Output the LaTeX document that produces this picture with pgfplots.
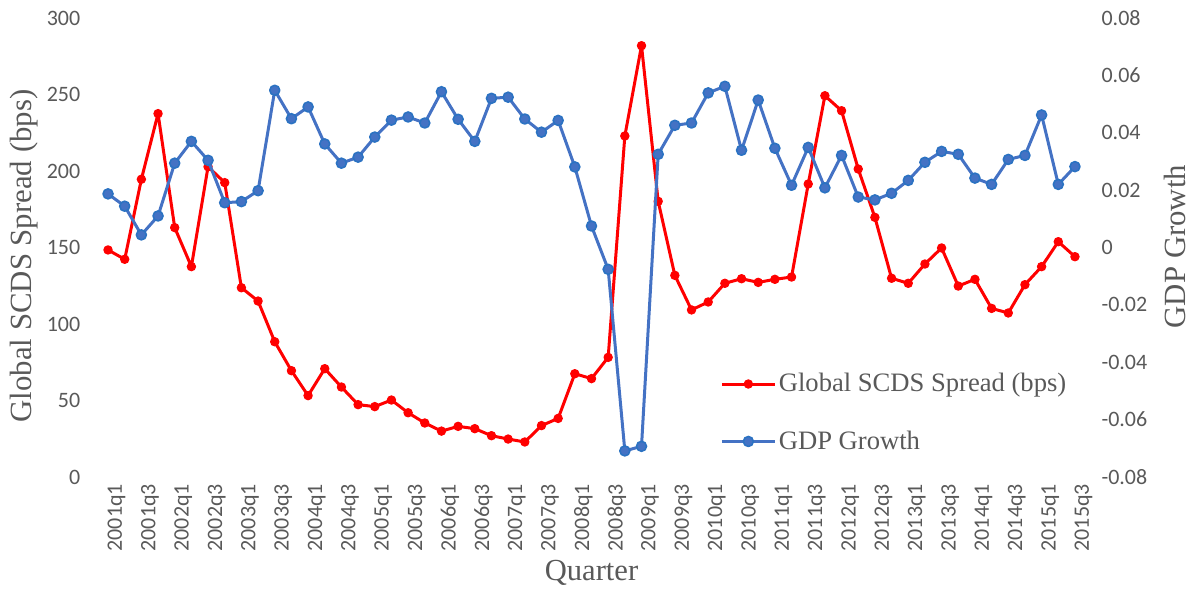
\documentclass[border=0pt]{standalone}
\usepackage{pgfplots}
\usepackage{pgfplotstable}
\pgfplotsset{compat=1.18}
\usepackage{fontspec}
\setmainfont{Liberation Serif}
\newfontfamily\tickfont{Carlito}
\definecolor{txt}{HTML}{595959}
\definecolor{gdp}{HTML}{4472C4}
\definecolor{gdpedge}{HTML}{2B72C2}
\definecolor{scds}{HTML}{FF0000}
\pgfplotstableread{
x red gdp
0 148.4 0.0187
1 142.3 0.0144
2 194.6 0.0044
3 237.5 0.0110
4 163.0 0.0294
5 137.5 0.0370
6 202.8 0.0304
7 192.4 0.0156
8 123.7 0.0160
9 115.0 0.0198
10 88.4 0.0548
11 69.5 0.0449
12 53.2 0.0490
13 70.8 0.0361
14 58.8 0.0294
15 47.3 0.0315
16 46.0 0.0385
17 50.3 0.0444
18 42.0 0.0455
19 35.3 0.0434
20 30.0 0.0543
21 33.1 0.0447
22 31.6 0.0370
23 27.0 0.0520
24 24.8 0.0524
25 22.9 0.0448
26 33.6 0.0402
27 38.3 0.0443
28 67.5 0.0281
29 64.3 0.0075
30 78.2 -0.0076
31 222.9 -0.0709
32 281.9 -0.0693
33 180.2 0.0325
34 131.8 0.0426
35 109.2 0.0434
36 114.4 0.0539
37 126.6 0.0562
38 129.6 0.0339
39 127.2 0.0514
40 129.2 0.0346
41 130.7 0.0217
42 191.5 0.0349
43 249.2 0.0208
44 239.4 0.0321
45 201.3 0.0176
46 169.7 0.0166
47 129.9 0.0189
48 126.6 0.0234
49 139.2 0.0297
50 149.7 0.0335
51 124.8 0.0325
52 129.2 0.0242
53 110.2 0.0220
54 107.2 0.0307
55 125.7 0.0321
56 137.5 0.0462
57 153.8 0.0220
58 144.0 0.0282
}\datatable
\pgfplotsset{
  common/.style={
    scale only axis, width=491.8pt, height=229.5pt,
    xmin=-0.5, xmax=58.5,
    axis line style={draw=none},
    tick style={draw=none},
    scaled ticks=false,
    /pgf/number format/assume math mode=true,
    ticklabel style={font=\tickfont\fontsize{11}{13}\selectfont, text=txt},
  },
  redstyle/.style={color=scds, line width=1.5pt, line join=round, mark=*, mark size=2.1pt,
    mark options={fill=scds, draw=scds, line width=0.5pt}},
  bluestyle/.style={color=gdp, line width=1.5pt, line join=round, mark=*, mark size=2.5pt,
    mark options={fill=gdp, draw=gdpedge, line width=0.8pt}},
}
\begin{document}
\begin{tikzpicture}
\begin{axis}[common, name=main,
  ymin=0, ymax=300, ytick={0,50,...,300},
  axis y line*=left, axis x line*=bottom,
  yticklabel style={xshift=-6.2pt},
  xtick={0,2,...,58},
  xticklabels={2001q1,2001q3,2002q1,2002q3,2003q1,2003q3,2004q1,2004q3,2005q1,2005q3,2006q1,2006q3,2007q1,2007q3,2008q1,2008q3,2009q1,2009q3,2010q1,2010q3,2011q1,2011q3,2012q1,2012q3,2013q1,2013q3,2014q1,2014q3,2015q1,2015q3},
  xticklabel style={rotate=90, anchor=east, yshift=-4.3pt},
  xlabel={Quarter},
  xlabel style={at={(axis description cs:0.5,-0.2244)}, anchor=base, font=\fontsize{15.3}{18}\selectfont, text=txt},
  ylabel={Global SCDS Spread (bps)},
  ylabel style={at={(axis description cs:-0.0698,0.4815)}, anchor=base, font=\fontsize{15.4}{18}\selectfont, text=txt},
]
\addplot[redstyle] table[x=x, y=red] {\datatable};
\end{axis}
\begin{axis}[common,
  ymin=-0.08, ymax=0.08,
  ytick={-0.08,-0.06,-0.04,-0.02,0,0.02,0.04,0.06,0.08},
  yticklabels={-0.08,-0.06,-0.04,-0.02,0,0.02,0.04,0.06,0.08},
  axis y line*=right, hide x axis,
  yticklabel style={anchor=west, xshift=5.6pt},
  ylabel={GDP Growth},
  ylabel style={at={(axis description cs:1.1034,0.502)}, anchor=base, rotate=0, font=\fontsize{15.4}{18}\selectfont, text=txt},
  legend style={at={(axis description cs:0.6306,0.140)}, anchor=west, draw=none, fill=none,
    inner sep=0pt, font=\fontsize{13.3}{15}\selectfont, text=txt, row sep=15.5pt,
    nodes={inner sep=1.25pt}},
  legend cell align=left,
  legend image code/.code={\draw[mark repeat=2,mark phase=2,#1] plot coordinates {(0pt,0pt) (13.25pt,0pt) (26.5pt,0pt)};},
]
\addlegendimage{redstyle}
\addlegendentry{Global SCDS Spread (bps)}
\addplot[bluestyle] table[x=x, y=gdp] {\datatable};
\addlegendentry{GDP Growth}
\end{axis}
\pgfresetboundingbox
\path[use as bounding box] ([shift={(-49.85pt,-56.5pt)}]main.south west) rectangle ([shift={(545.65pt,238.5pt)}]main.south west);
\end{tikzpicture}
\end{document}
